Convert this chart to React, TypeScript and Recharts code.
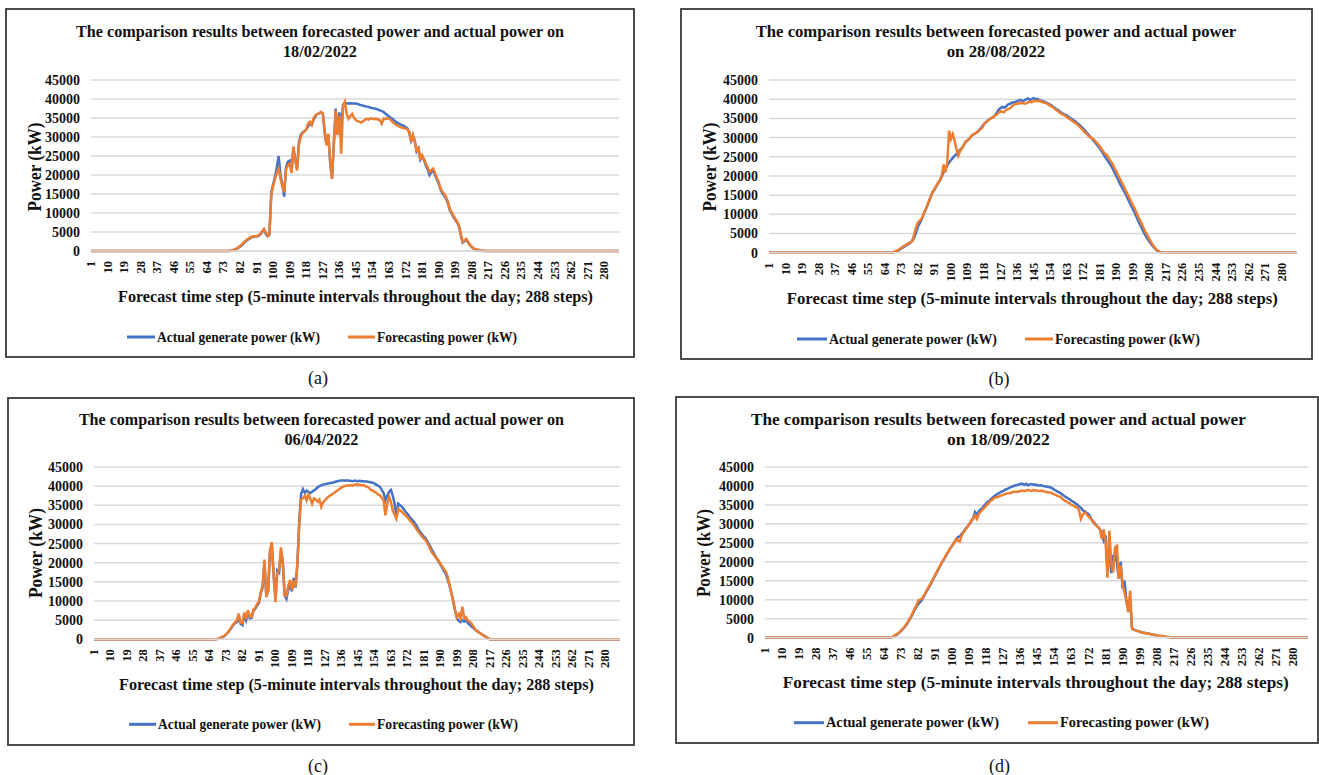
import React from "react";
import { LineChart, Line, XAxis, YAxis, CartesianGrid } from "recharts";

// forecast steps 1..288 (5-minute intervals)
const steps: number[] = Array.from({ length: 288 }, (_, i) => i + 1);
const yTicks = [0, 5000, 10000, 15000, 20000, 25000, 30000, 35000, 40000, 45000];

const seriesNames = ["Actual generate power (kW)", "Forecasting power (kW)"];
const titleA = ["The comparison results between forecasted power and actual power on", "18/02/2022"];
const titleB = ["The comparison results between forecasted power and actual power", "on 28/08/2022"];
const titleC = ["The comparison results between forecasted power and actual power on", "06/04/2022"];
const titleD = ["The comparison results between forecasted power and actual power", "on 18/09/2022"];

// daylight values (kW); before / after these steps the plant produces 0
const startA = 76;
const actualA = [
  0, 100, 200, 300, 500, 800, 1100, 1500, 2000, 2500,
  2900, 3200, 3500, 3700, 3800, 3800, 4000, 4300, 5000, 5600,
  4500, 3900, 4300, 15500, 17500, 19500, 22000, 25000, 20000, 17500,
  14300, 22000, 23500, 23800, 21000, 27000, 24000, 21800, 28500, 30500,
  31200, 31500, 32000, 32800, 33500, 33200, 34500, 35500, 36000, 36200,
  36500, 36300, 31000, 28000, 30500, 23500, 19000, 28000, 37500, 31000,
  36500, 32000, 38500, 39000, 38800, 38800, 38900, 38800, 38800, 38800,
  38700, 38500, 38400, 38200, 38100, 38000, 37900, 37700, 37600, 37500,
  37400, 37200, 37000, 36800, 36600, 36200, 35800, 35400, 35000, 34700,
  34300, 33900, 33600, 33400, 33100, 32900, 32600, 32300, 31200, 29000,
  30300, 28800, 26200, 27000, 24000, 24800, 24000, 22500, 21500, 20000,
  20800, 21200, 20000, 18800, 17800, 16200, 15200, 14600, 13800, 12500,
  10800, 10000, 9000, 8200, 7500, 6500, 4200, 2200, 2600, 3000,
  2200, 1500, 1000, 600, 400, 300, 200, 100, 50, 0,
  0,
];
const forecastA = [
  0, 100, 200, 400, 600, 900, 1300, 1700, 2200, 2700,
  3100, 3400, 3700, 3800, 3900, 3900, 4100, 4500, 5200, 5800,
  4800, 4000, 4600, 14800, 17000, 19000, 20500, 21700, 19000, 17000,
  15500, 21500, 22500, 23000, 20500, 27500, 24000, 21200, 28000, 30000,
  31000, 31500, 32000, 33500, 34000, 33200, 35000, 35700, 36000, 36200,
  36600, 36200, 32000, 27800, 30900, 23400, 19000, 28500, 37000, 30500,
  35700, 25600, 38000, 39200, 36000, 34800, 35500, 36100, 35000, 34400,
  34200, 34000, 33800, 34200, 34600, 34800, 34600, 34900, 34800, 34700,
  34800, 34600, 34400, 33500, 34800, 34700, 34900, 34800, 34500, 33900,
  33500, 33200, 32900, 32600, 32500, 32300, 32200, 32000, 31300, 28700,
  30600, 29100, 26000, 27400, 23900, 25200, 24200, 23000, 22000, 20800,
  21300, 21700, 20500, 19200, 18200, 16500, 15500, 15000, 14200, 13000,
  11100, 10200, 9300, 8500, 7800, 6800, 4500, 2400, 2800, 3200,
  2400, 1600, 1100, 700, 500, 400, 250, 150, 100, 50,
  0,
];

const startB = 67;
const actualB = [
  0, 50, 150, 300, 500, 800, 1100, 1400, 1700, 2000,
  2300, 2600, 3200, 3900, 5200, 6800, 7600, 8600, 9800, 10900,
  12000, 13300, 14500, 15700, 16400, 17200, 18100, 18800, 19800, 20900,
  21800, 22700, 23500, 24100, 24700, 25200, 25700, 26200, 26800, 27300,
  28000, 28800, 29200, 29700, 30300, 30700, 31000, 31300, 31800, 32300,
  32900, 33500, 34000, 34400, 34800, 35100, 35400, 35800, 36500, 37300,
  37700, 38000, 37800, 38100, 38600, 38800, 39000, 39200, 39300, 39500,
  39700, 39800, 39500, 39700, 40000, 40200, 39800, 40000, 40300, 40000,
  40100, 39800, 39600, 39500, 39300, 39100, 38800, 38600, 38300, 37900,
  37600, 37200, 36900, 36500, 36200, 36000, 35800, 35400, 35100, 34800,
  34400, 34100, 33700, 33300, 32800, 32300, 31800, 31200, 30700, 30100,
  29600, 29000, 28400, 27800, 27200, 26500, 25700, 24900, 24200, 23500,
  22800, 21900, 21000, 20000, 19000, 18000, 17100, 16200, 15300, 14300,
  13300, 12300, 11400, 10400, 9300, 8200, 7200, 6300, 5300, 4400,
  3600, 2900, 2200, 1600, 1100, 600, 300, 100, 0, 0,
  0,
];
const forecastB = [
  0, 50, 200, 400, 650, 950, 1300, 1600, 1900, 2200,
  2500, 2700, 3000, 4800, 6500, 7900, 8300, 8800, 10000, 11000,
  12200, 13400, 14600, 15800, 16600, 17400, 18200, 19000, 20000, 23000,
  21000, 23500, 31800, 29600, 30900, 29200, 27000, 25300, 26500, 27200,
  28000, 29000, 29300, 29600, 30400, 30800, 31000, 31300, 31600, 32200,
  32500, 33500, 34000, 34300, 34800, 35100, 35300, 35700, 36000, 36500,
  36900, 36700, 36600, 37200, 37400, 37600, 38000, 38500, 38700, 38800,
  39000, 38900, 39100, 38800, 38900, 39200, 39300, 39200, 39500, 39600,
  39500, 39600, 39400, 39200, 39100, 38900, 38600, 38300, 38100, 37700,
  37300, 36900, 36600, 36200, 36000, 35700, 35400, 35000, 34700, 34400,
  34000, 33700, 33300, 32800, 32400, 31800, 31300, 30900, 30400, 30000,
  29800, 29400, 28800, 28300, 27700, 27000, 26300, 25700, 25300, 24500,
  23800, 23100, 22000, 21200, 20200, 19200, 18300, 17300, 16300, 15400,
  14400, 13400, 12400, 11500, 10400, 9300, 8300, 7300, 6300, 5300,
  4400, 3500, 2700, 1900, 1300, 800, 400, 150, 50, 0,
  0,
];

const startC = 67;
const actualC = [
  0, 50, 150, 300, 500, 800, 1200, 1700, 2300, 3000,
  3700, 4200, 4500, 5800, 4000, 3700, 6500, 5000, 7200, 5500,
  5600, 7500, 8000, 8800, 9500, 12000, 13500, 20000, 11500, 12500,
  22500, 25000, 17000, 11000, 18000, 17500, 23000, 20000, 11500, 10600,
  13000, 13800, 12500, 16000, 13500, 20000, 31000, 38000, 39200, 38200,
  38800, 38500, 38200, 38500, 38900, 39200, 39700, 40000, 40200, 40400,
  40500, 40600, 40700, 40800, 40900, 41000, 41200, 41300, 41400, 41500,
  41500, 41400, 41500, 41400, 41400, 41300, 41400, 41400, 41300, 41400,
  41300, 41300, 41200, 41200, 41100, 41000, 40900, 40700, 40400, 40100,
  39800, 39000, 38200, 36300, 37500, 38500, 39000, 37500, 35500, 32000,
  35400, 35000, 34600, 34000, 33300, 32800, 32100, 31500, 31000, 30400,
  29700, 28700, 28000, 27400, 26800, 26300, 25500, 24600, 23700, 22800,
  22000, 21100, 20300, 19500, 18700, 17800, 17000, 15500, 14000, 12200,
  10000, 7600, 5500, 4800, 4500, 5000, 4600, 5000, 4200, 3800,
  3300, 3000, 2500, 2200, 1800, 1500, 1200, 900, 600, 300,
  0,
];
const forecastC = [
  0, 50, 200, 400, 600, 900, 1300, 1800, 2400, 3200,
  3900, 4400, 5000, 6700, 4300, 4200, 7000, 5400, 7600, 6000,
  5800, 7800, 8200, 9300, 9800, 12500, 14000, 20800, 11000, 12800,
  23300, 25400, 16300, 9700, 17200, 18000, 24000, 20600, 11500, 11300,
  14000, 15500, 12800, 15400, 13700, 19800, 30000, 36500, 36800, 37500,
  36300, 37800, 36800, 35400, 36800, 36500, 35900, 36500, 34600, 35800,
  36300, 36800, 37300, 37600, 37900, 38200, 38600, 38900, 39300, 39600,
  39900, 40000, 40200, 40200, 40300, 40100, 40300, 40500, 40300, 40400,
  40200, 40300, 40000, 39800, 39600, 39000, 38900, 38500, 38300, 37800,
  37600, 37000, 36300, 32400, 35400, 37200, 35900, 33700, 32500, 31500,
  34100, 33700, 33300, 32800, 32400, 31900, 31300, 30700, 30200, 29500,
  28800, 28000, 27500, 26800, 26300, 25900, 25000, 24000, 23000, 22300,
  21700, 21000, 20600, 19800, 19000, 18300, 17600, 16300, 14100, 12000,
  9800, 7500, 5800, 6700, 5500, 8500, 5400, 5800, 4900, 4600,
  4100, 3400, 2500, 2100, 1800, 1500, 1100, 800, 600, 300,
  0,
];

const startD = 66;
const actualD = [
  0, 0, 50, 300, 600, 900, 1300, 1800, 2300, 2900,
  3600, 4400, 5200, 6200, 7200, 8100, 8800, 9400, 10000, 10900,
  11800, 12700, 13500, 14500, 15500, 16500, 17400, 18400, 19300, 20200,
  21000, 21900, 22700, 23600, 24300, 25100, 25800, 26500, 26700, 27400,
  28000, 28700, 29300, 29900, 30600, 31500, 33100, 32400, 33300, 33800,
  34300, 34900, 35500, 36000, 36300, 36800, 37200, 37600, 37900, 38200,
  38500, 38700, 39000, 39200, 39500, 39700, 39900, 40100, 40200, 40400,
  40500, 40600, 40300, 40600, 40200, 40400, 40500, 40300, 40400, 40200,
  40100, 40200, 40000, 39900, 39800, 39700, 39600, 39300, 39000, 38700,
  38400, 38200, 37800, 37400, 37100, 36800, 36500, 36100, 35800, 35400,
  35100, 34600, 34200, 33600, 33300, 32900, 32600, 31800, 30900, 30300,
  29700, 29100, 28600, 27200, 25600, 27000, 19000, 23000, 17000, 21500,
  22000, 19800, 15500, 20000, 13000, 15000, 10000, 7600, 9500, 2500,
  2100, 1900, 1700, 1600, 1400, 1300, 1200, 1100, 1000, 900,
  800, 700, 600, 500, 450, 400, 300, 200, 150, 100,
  50, 0,
];
const forecastD = [
  0, 0, 100, 400, 700, 1000, 1400, 1900, 2400, 3000,
  3700, 4500, 5400, 6500, 7600, 8500, 9800, 10000, 10300, 11100,
  12000, 12900, 13800, 14700, 15600, 16600, 17500, 18500, 19400, 20300,
  21100, 22000, 22800, 23700, 24300, 25200, 26000, 25600, 25400, 27000,
  27800, 28500, 29200, 29800, 30900, 31200, 32200, 31300, 32600, 33200,
  33800, 34300, 34800, 35400, 36000, 36300, 36800, 37000, 37100, 37300,
  37500, 37700, 37900, 38000, 38100, 38200, 38400, 38500, 38500, 38500,
  38700, 38800, 38600, 38800, 38900, 38800, 38700, 38900, 38800, 38800,
  38700, 38800, 38600, 38500, 38400, 38300, 38300, 38000, 37800, 37500,
  37300, 37200, 36700, 36300, 36000, 35700, 35400, 35000, 34800, 34500,
  34300, 33500, 31300, 32500, 33000, 32500, 31900, 31500, 30800, 30000,
  29600, 29200, 28700, 26000, 28500, 25500, 15800, 28200, 19500, 17200,
  23800, 24200, 15500, 19000, 14000, 12000, 9500, 6700, 12400, 2300,
  2100, 1900, 1700, 1600, 1400, 1300, 1200, 1100, 1000, 900,
  800, 700, 600, 500, 450, 400, 300, 200, 150, 100,
  50, 0,
];

const BLUE = "#4472C4";
const ORANGE = "#ED7D31";
const SERIF = '"Liberation Serif", "Times New Roman", serif';

function buildRows(start: number, actual: number[], forecast: number[]) {
  return steps.map((s) => {
    const i = s - start;
    const inDay = i >= 0 && i < actual.length;
    return {
      step: s,
      actual: inDay ? actual[i] : 0,
      forecast: inDay ? forecast[i] : 0,
    };
  });
}

function StepTick(props: any) {
  const { x, y, payload } = props;
  const ty = y + 2;
  return (
    <text
      x={x}
      y={ty}
      transform={`rotate(-90 ${x} ${ty})`}
      textAnchor="end"
      dominantBaseline="central"
      fontFamily={SERIF}
      fontWeight="bold"
      fontSize={12.5}
      fill="#111"
    >
      {payload.value}
    </text>
  );
}

interface PanelSpec {
  box: [number, number, number, number]; // left, top, right, bottom
  plot: [number, number, number, number]; // left, top, width, height
  title: string[];
  titleX: number;
  titleY: [number, number];
  titleW: [number, number];
  yTitle: [number, number, number];
  xTitle: [number, number, number];
  legendY: number;
  legend: [number, number, number, number, number, number]; // blue line x1,x2,text x ; orange ...
  legendW: [number, number];
  letter: string;
  letterPos: [number, number];
  rows: { step: number; actual: number; forecast: number }[];
}

const panels: PanelSpec[] = [
  {
    box: [6, 9, 634, 357],
    plot: [91, 80, 528, 171],
    title: titleA,
    titleX: 320,
    titleY: [31, 51.7],
    titleW: [488, 74],
    yTitle: [35, 167, 89],
    xTitle: [355.5, 296, 475],
    legendY: 337,
    legend: [127, 155, 157, 348, 375, 377],
    legendW: [163, 140],
    letter: "(a)",
    letterPos: [318, 378],
    rows: buildRows(startA, actualA, forecastA),
  },
  {
    box: [681, 9, 1312, 359],
    plot: [768.6, 80, 527.4, 172.7],
    title: titleB,
    titleX: 996,
    titleY: [31.7, 51.7],
    titleW: [480.5, 98.6],
    yTitle: [710, 167, 89],
    xTitle: [1032.3, 298, 491],
    legendY: 339,
    legend: [797, 827, 829, 1025, 1053, 1055],
    legendW: [168, 145],
    letter: "(b)",
    letterPos: [999, 379],
    rows: buildRows(startB, actualB, forecastB),
  },
  {
    box: [8, 398, 634, 745],
    plot: [93.5, 466.7, 526, 172.3],
    title: titleC,
    titleX: 321.4,
    titleY: [419.3, 439.3],
    titleW: [485, 74],
    yTitle: [36, 553, 90],
    xTitle: [356.5, 684.3, 475],
    legendY: 724.3,
    legend: [129, 156, 158, 349, 375, 377],
    legendW: [163, 141],
    letter: "(c)",
    letterPos: [318, 765.7],
    rows: buildRows(startC, actualC, forecastC),
  },
  {
    box: [676, 397, 1318, 743],
    plot: [764.5, 466.7, 543, 170.6],
    title: titleD,
    titleX: 998.4,
    titleY: [419.3, 439.3],
    titleW: [494.8, 102.6],
    yTitle: [703.7, 553, 88],
    xTitle: [1035.8, 682.7, 506],
    legendY: 722.7,
    legend: [794, 824, 826, 1028, 1058, 1060],
    legendW: [173, 149],
    letter: "(d)",
    letterPos: [999.4, 765.7],
    rows: buildRows(startD, actualD, forecastD),
  },
];

const textProps = {
  fontFamily: SERIF,
  fontWeight: "bold" as const,
  fill: "#111",
  dominantBaseline: "central" as const,
  lengthAdjust: "spacingAndGlyphs" as const,
};

function PanelChart({ p }: { p: PanelSpec }) {
  const [px, py, pw, ph] = p.plot;
  const axisW = 70;
  const axisH = 40;
  return (
    <div
      style={{
        position: "absolute",
        left: px - axisW,
        top: py - 10,
        width: pw + axisW + 10,
        height: ph + 10 + axisH,
      }}
    >
      <LineChart
        width={pw + axisW + 10}
        height={ph + 10 + axisH}
        data={p.rows}
        margin={{ top: 10, right: 10, bottom: 0, left: 0 }}
      >
        <CartesianGrid vertical={false} stroke="#d9d9d9" strokeWidth={1.5} />
        <XAxis
          dataKey="step"
          interval={8}
          height={axisH}
          tick={<StepTick />}
          tickLine={false}
          axisLine={{ stroke: "#d9d9d9", strokeWidth: 1.5 }}
        />
        <YAxis
          width={axisW}
          domain={[0, 45000]}
          ticks={yTicks}
          interval={0}
          tickLine={false}
          axisLine={false}
          tickMargin={5}
          tick={{ fontFamily: SERIF, fontWeight: "bold", fontSize: 14, fill: "#111" }}
        />
        <Line
          type="linear"
          dataKey="actual"
          name={seriesNames[0]}
          stroke={BLUE}
          strokeWidth={2.5}
          dot={false}
          isAnimationActive={false}
        />
        <Line
          type="linear"
          dataKey="forecast"
          name={seriesNames[1]}
          stroke={ORANGE}
          strokeWidth={2.5}
          dot={false}
          isAnimationActive={false}
        />
      </LineChart>
    </div>
  );
}

function PanelText({ p }: { p: PanelSpec }) {
  const [l, t, r, b] = p.box;
  const [bx1, bx2, bt, ox1, ox2, ot] = p.legend;
  return (
    <g>
      <rect x={l} y={t} width={r - l} height={b - t} fill="none" stroke="#3a3a3a" strokeWidth={1.8} />
      {p.title.map((line, i) => (
        <text
          key={i}
          {...textProps}
          x={p.titleX}
          y={p.titleY[i]}
          textAnchor="middle"
          fontSize={17}
          textLength={p.titleW[i]}
        >
          {line}
        </text>
      ))}
      <text
        {...textProps}
        x={p.yTitle[0]}
        y={p.yTitle[1]}
        textAnchor="middle"
        fontSize={18}
        textLength={p.yTitle[2]}
        transform={`rotate(-90 ${p.yTitle[0]} ${p.yTitle[1]})`}
      >
        Power (kW)
      </text>
      <text
        {...textProps}
        x={p.xTitle[0]}
        y={p.xTitle[1]}
        textAnchor="middle"
        fontSize={17}
        textLength={p.xTitle[2]}
      >
        Forecast time step (5-minute intervals throughout the day; 288 steps)
      </text>
      <line x1={bx1} x2={bx2} y1={p.legendY} y2={p.legendY} stroke={BLUE} strokeWidth={3} />
      <text {...textProps} x={bt} y={p.legendY} fontSize={14} textLength={p.legendW[0]}>
        {seriesNames[0]}
      </text>
      <line x1={ox1} x2={ox2} y1={p.legendY} y2={p.legendY} stroke={ORANGE} strokeWidth={3} />
      <text {...textProps} x={ot} y={p.legendY} fontSize={14} textLength={p.legendW[1]}>
        {seriesNames[1]}
      </text>
      <text
        x={p.letterPos[0]}
        y={p.letterPos[1]}
        textAnchor="middle"
        dominantBaseline="central"
        fontFamily={SERIF}
        fontSize={18}
        fill="#111"
      >
        {p.letter}
      </text>
    </g>
  );
}

export default function App() {
  return (
    <div
      style={{
        position: "fixed",
        left: 0,
        top: 0,
        width: 1319,
        height: 775,
        background: "#fff",
        overflow: "hidden",
      }}
    >
      <svg
        width={1319}
        height={775}
        style={{ position: "absolute", left: 0, top: 0 }}
      >
        {panels.map((p) => (
          <PanelText key={p.letter} p={p} />
        ))}
      </svg>
      {panels.map((p) => (
        <PanelChart key={p.letter} p={p} />
      ))}
    </div>
  );
}
